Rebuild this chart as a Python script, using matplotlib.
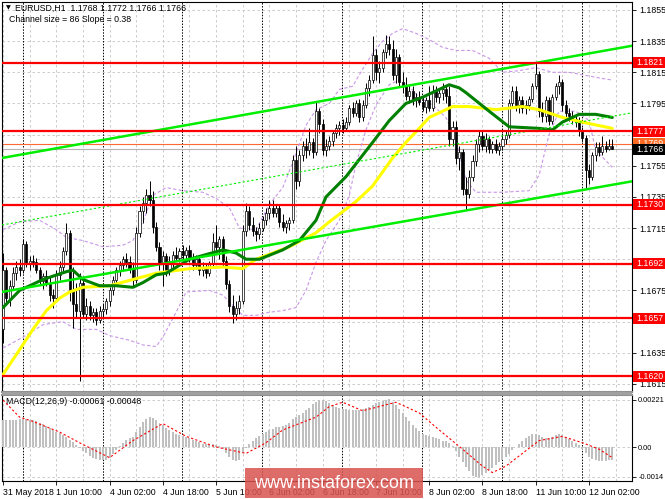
import numpy as np
import matplotlib
matplotlib.use("Agg")
import matplotlib.pyplot as plt
import matplotlib.transforms as mtransforms
from matplotlib.patches import Rectangle

plt.rcParams['font.family'] = ['Liberation Sans', 'DejaVu Sans']
plt.rcParams['font.size'] = 6.3

# EURUSD H1, 31 May 18:00 .. 12 Jun 09:00 (one row per trading day)
opens = [
    1.1650, 1.1688, 1.1670, 1.1678, 1.1686, 1.1690,
    1.1688, 1.1705, 1.1692, 1.1694, 1.1693, 1.1688, 1.1681, 1.1684, 1.1680, 1.1672, 1.1670, 1.1685, 1.1690, 1.1700, 1.1712, 1.1675, 1.1666, 1.1662, 1.1680, 1.1660, 1.1665, 1.1659, 1.1661, 1.1656,
    1.1662, 1.1663, 1.1668, 1.1675, 1.1682, 1.1688, 1.1691, 1.1695, 1.1693, 1.1689, 1.1682, 1.1712, 1.1726, 1.1731, 1.1736, 1.1733, 1.1716, 1.1703, 1.1692, 1.1697, 1.1688, 1.1694, 1.1698, 1.1696,
    1.1700, 1.1698, 1.1701, 1.1696, 1.1691, 1.1695, 1.1688, 1.1690, 1.1686, 1.1692, 1.1706, 1.1703, 1.1708, 1.1694, 1.1679, 1.1665, 1.1660, 1.1664, 1.1668, 1.1713, 1.1726, 1.1717, 1.1713, 1.1711,
    1.1715, 1.1720, 1.1725, 1.1728, 1.1725, 1.1728, 1.1719, 1.1716, 1.1718, 1.1720, 1.1759, 1.1745, 1.1762, 1.1768, 1.1765, 1.1770, 1.1764, 1.1790, 1.1782, 1.1765, 1.1768, 1.1771, 1.1776, 1.1779,
    1.1781, 1.1779, 1.1783, 1.1792, 1.1789, 1.1795, 1.1786, 1.1794, 1.1805, 1.1810, 1.1826, 1.1815, 1.1818, 1.1828, 1.1833, 1.1830, 1.1813, 1.1825, 1.1809, 1.1806, 1.1800, 1.1803, 1.1797, 1.1799,
    1.1796, 1.1793, 1.1797, 1.1792, 1.1803, 1.1799, 1.1802, 1.1804, 1.1800, 1.1772, 1.1780, 1.1760, 1.1764, 1.1740, 1.1737, 1.1748, 1.1758, 1.1769, 1.1774, 1.1768, 1.1772, 1.1766, 1.1769, 1.1765,
    1.1768, 1.1772, 1.1775, 1.1795, 1.1803, 1.1794, 1.1797, 1.1792, 1.1794, 1.1798, 1.1806, 1.1814, 1.1790, 1.1787, 1.1797, 1.1784, 1.1799, 1.1806, 1.1809, 1.1794, 1.1789, 1.1787, 1.1785, 1.1783,
    1.1777, 1.1773, 1.1752, 1.1748, 1.1762, 1.1767, 1.1764, 1.1768, 1.1766, 1.1768,
]
highs = [
    1.1699, 1.1690, 1.1682, 1.1690, 1.1694, 1.1695,
    1.1708, 1.1707, 1.1697, 1.1698, 1.1696, 1.1690, 1.1686, 1.1688, 1.1684, 1.1676, 1.1688, 1.1694, 1.1703, 1.1718, 1.1714, 1.1690, 1.1680, 1.1686, 1.1684, 1.1670, 1.1668, 1.1664, 1.1664, 1.1665,
    1.1666, 1.1670, 1.1677, 1.1684, 1.1690, 1.1694, 1.1697, 1.1699, 1.1697, 1.1693, 1.1716, 1.1729, 1.1735, 1.1740, 1.1745, 1.1739, 1.1719, 1.1706, 1.1700, 1.1699, 1.1697, 1.1700, 1.1703, 1.1702,
    1.1704, 1.1703, 1.1704, 1.1699, 1.1698, 1.1697, 1.1693, 1.1692, 1.1694, 1.1712, 1.1717, 1.1710, 1.1710, 1.1697, 1.1682, 1.1672, 1.1668, 1.1672, 1.1717, 1.1731, 1.1729, 1.1722, 1.1716, 1.1718,
    1.1723, 1.1728, 1.1733, 1.1733, 1.1730, 1.1730, 1.1724, 1.1720, 1.1722, 1.1762, 1.1768, 1.1765, 1.1771, 1.1773, 1.1779, 1.1773, 1.1796, 1.1792, 1.1785, 1.1772, 1.1774, 1.1778, 1.1782, 1.1784,
    1.1785, 1.1786, 1.1794, 1.1796, 1.1797, 1.1798, 1.1797, 1.1808, 1.1813, 1.1838, 1.1830, 1.1822, 1.1830, 1.1839, 1.1838, 1.1836, 1.1830, 1.1827, 1.1815, 1.1812, 1.1806, 1.1806, 1.1802, 1.1803,
    1.1800, 1.1799, 1.1806, 1.1807, 1.1806, 1.1805, 1.1808, 1.1807, 1.1806, 1.1784, 1.1784, 1.1768, 1.1766, 1.1748, 1.1752, 1.1762, 1.1772, 1.1778, 1.1777, 1.1776, 1.1774, 1.1771, 1.1772, 1.1770,
    1.1776, 1.1778, 1.1798, 1.1806, 1.1806, 1.1800, 1.1800, 1.1797, 1.1800, 1.1808, 1.1821, 1.1816, 1.1796, 1.1800, 1.1799, 1.1801, 1.1808, 1.1813, 1.1811, 1.1797, 1.1792, 1.1790, 1.1788, 1.1786,
    1.1780, 1.1775, 1.1756, 1.1764, 1.1770, 1.1770, 1.1774, 1.1771, 1.1772, 1.1772,
]
lows = [
    1.1641, 1.1666, 1.1665, 1.1675, 1.1682, 1.1684,
    1.1686, 1.1690, 1.1688, 1.1690, 1.1686, 1.1679, 1.1676, 1.1678, 1.1668, 1.1664, 1.1668, 1.1682, 1.1687, 1.1698, 1.1668, 1.1651, 1.1658, 1.1617, 1.1657, 1.1656, 1.1656, 1.1655, 1.1653, 1.1654,
    1.1657, 1.1660, 1.1665, 1.1672, 1.1680, 1.1684, 1.1688, 1.1690, 1.1686, 1.1678, 1.1680, 1.1709, 1.1718, 1.1725, 1.1729, 1.1712, 1.1700, 1.1688, 1.1678, 1.1684, 1.1685, 1.1690, 1.1694, 1.1693,
    1.1695, 1.1694, 1.1693, 1.1688, 1.1689, 1.1685, 1.1684, 1.1683, 1.1684, 1.1690, 1.1700, 1.1695, 1.1690, 1.1676, 1.1661, 1.1654, 1.1656, 1.1660, 1.1666, 1.1710, 1.1714, 1.1710, 1.1707, 1.1708,
    1.1713, 1.1717, 1.1721, 1.1722, 1.1722, 1.1716, 1.1713, 1.1712, 1.1714, 1.1718, 1.1740, 1.1742, 1.1758, 1.1760, 1.1762, 1.1760, 1.1762, 1.1776, 1.1762, 1.1761, 1.1765, 1.1768, 1.1773, 1.1775,
    1.1776, 1.1777, 1.1781, 1.1786, 1.1787, 1.1783, 1.1784, 1.1792, 1.1800, 1.1808, 1.1810, 1.1808, 1.1815, 1.1824, 1.1826, 1.1810, 1.1808, 1.1806, 1.1802, 1.1797, 1.1795, 1.1794, 1.1793, 1.1794,
    1.1790, 1.1789, 1.1790, 1.1790, 1.1796, 1.1795, 1.1797, 1.1795, 1.1768, 1.1768, 1.1756, 1.1752, 1.1736, 1.1727, 1.1734, 1.1745, 1.1755, 1.1764, 1.1765, 1.1764, 1.1763, 1.1763, 1.1763, 1.1762,
    1.1765, 1.1769, 1.1773, 1.1792, 1.1790, 1.1789, 1.1789, 1.1788, 1.1791, 1.1796, 1.1804, 1.1786, 1.1783, 1.1783, 1.1781, 1.1782, 1.1797, 1.1801, 1.1790, 1.1786, 1.1784, 1.1782, 1.1780, 1.1774,
    1.1770, 1.1741, 1.1743, 1.1746, 1.1758, 1.1761, 1.1762, 1.1764, 1.1765, 1.1766,
]
closes = [
    1.1688, 1.1670, 1.1678, 1.1686, 1.1690, 1.1688,
    1.1705, 1.1692, 1.1694, 1.1693, 1.1688, 1.1681, 1.1684, 1.1680, 1.1672, 1.1670, 1.1685, 1.1690, 1.1700, 1.1712, 1.1675, 1.1666, 1.1662, 1.1680, 1.1660, 1.1665, 1.1659, 1.1661, 1.1656, 1.1662,
    1.1663, 1.1668, 1.1675, 1.1682, 1.1688, 1.1691, 1.1695, 1.1693, 1.1689, 1.1682, 1.1712, 1.1726, 1.1731, 1.1736, 1.1733, 1.1716, 1.1703, 1.1692, 1.1697, 1.1688, 1.1694, 1.1698, 1.1696, 1.1700,
    1.1698, 1.1701, 1.1696, 1.1691, 1.1695, 1.1688, 1.1690, 1.1686, 1.1692, 1.1706, 1.1703, 1.1708, 1.1694, 1.1679, 1.1665, 1.1660, 1.1664, 1.1668, 1.1713, 1.1726, 1.1717, 1.1713, 1.1711, 1.1715,
    1.1720, 1.1725, 1.1728, 1.1725, 1.1728, 1.1719, 1.1716, 1.1718, 1.1720, 1.1759, 1.1745, 1.1762, 1.1768, 1.1765, 1.1770, 1.1764, 1.1790, 1.1782, 1.1765, 1.1768, 1.1771, 1.1776, 1.1779, 1.1781,
    1.1779, 1.1783, 1.1792, 1.1789, 1.1795, 1.1786, 1.1794, 1.1805, 1.1810, 1.1826, 1.1815, 1.1818, 1.1828, 1.1833, 1.1830, 1.1813, 1.1825, 1.1809, 1.1806, 1.1800, 1.1803, 1.1797, 1.1799, 1.1796,
    1.1793, 1.1797, 1.1792, 1.1803, 1.1799, 1.1802, 1.1804, 1.1800, 1.1772, 1.1780, 1.1760, 1.1764, 1.1740, 1.1737, 1.1748, 1.1758, 1.1769, 1.1774, 1.1768, 1.1772, 1.1766, 1.1769, 1.1765, 1.1768,
    1.1772, 1.1775, 1.1795, 1.1803, 1.1794, 1.1797, 1.1792, 1.1794, 1.1798, 1.1806, 1.1814, 1.1790, 1.1787, 1.1797, 1.1784, 1.1799, 1.1806, 1.1809, 1.1794, 1.1789, 1.1787, 1.1785, 1.1783, 1.1777,
    1.1773, 1.1752, 1.1748, 1.1762, 1.1767, 1.1764, 1.1768, 1.1766, 1.1768, 1.1766,
]

# MACD histogram (main line) per bar
macd_hist = [
    0.00125, 0.00126, 0.00127, 0.00128, 0.00129, 0.00130,
    0.00131, 0.00130, 0.00128, 0.00125, 0.00120, 0.00113, 0.00106, 0.00098, 0.00090, 0.00080, 0.00072, 0.00064, 0.00056, 0.00048, 0.00035, 0.00022, 0.00010, -0.00005, -0.00018, -0.00030, -0.00042, -0.00052, -0.00058, -0.00062,
    -0.00063, -0.00060, -0.00050, -0.00035, -0.00015, 0.00005, 0.00020, 0.00032, 0.00042, 0.00048, 0.00070, 0.00095, 0.00118, 0.00133, 0.00140, 0.00138, 0.00128, 0.00115, 0.00102, 0.00090, 0.00080, 0.00070, 0.00062, 0.00055,
    0.00050, 0.00045, 0.00040, 0.00033, 0.00027, 0.00022, 0.00016, 0.00012, 0.00010, 0.00012, 0.00010, 0.00005, -0.00010, -0.00030, -0.00048, -0.00060, -0.00068, -0.00060, -0.00030, -0.00005, 0.00015, 0.00030, 0.00042, 0.00052,
    0.00062, 0.00072, 0.00080, 0.00086, 0.00092, 0.00096, 0.00100, 0.00104, 0.00115, 0.00130, 0.00140, 0.00148, 0.00160, 0.00172, 0.00184, 0.00200, 0.00212, 0.00220, 0.00221, 0.00215, 0.00205, 0.00195, 0.00190, 0.00185,
    0.00180, 0.00178, 0.00176, 0.00175, 0.00174, 0.00176, 0.00178, 0.00182, 0.00186, 0.00195, 0.00205, 0.00212, 0.00218, 0.00222, 0.00224, 0.00212, 0.00195, 0.00178, 0.00160, 0.00142, 0.00122, 0.00105, 0.00090, 0.00075,
    0.00062, 0.00055, 0.00050, 0.00047, 0.00042, 0.00036, 0.00030, 0.00028, 0.00020, 0.00005, -0.00020, -0.00045, -0.00072, -0.00095, -0.00115, -0.00135, -0.00142, -0.00140, -0.00132, -0.00122, -0.00110, -0.00098, -0.00085, -0.00072,
    -0.00060, -0.00048, -0.00032, -0.00015, 0.00000, 0.00015, 0.00028, 0.00040, 0.00052, 0.00060, 0.00062, 0.00055, 0.00046, 0.00040, 0.00042, 0.00048, 0.00055, 0.00060, 0.00058, 0.00048, 0.00038, 0.00028, 0.00020, 0.00008,
    -0.00008, -0.00030, -0.00045, -0.00055, -0.00062, -0.00066, -0.00066, -0.00065, -0.00063, -0.00061,
]

# signal line, read at a few bars
signal_bars = [0, 5, 9, 17, 23, 32, 39, 48, 55, 64, 73, 79, 84, 94, 98, 102, 108, 118, 125, 131,
               138, 144, 147, 151, 156, 161, 168, 174, 179, 183]
signal_vals = [0.0022, 0.0014, 0.0012, 0.0007, 0.0002, -0.0005, 0.0003, 0.0011, 0.0005, 0.0000,
               -0.0003, 0.0002, 0.0008, 0.0014, 0.0019, 0.0021, 0.0017, 0.0021, 0.0016, 0.0008,
               -0.0001, -0.0009, -0.0012, -0.0009, -0.0003, 0.0003, 0.0005, 0.0002, -0.0001, -0.0005]

# moving averages, read at a few bars
ma_fast_bars = [0, 5, 12, 19, 21, 24, 29, 34, 39, 42, 46, 49, 56, 66, 70, 73, 77, 84, 89, 94, 97,
                103, 111, 116, 121, 126, 131, 134, 137, 139, 146, 152, 161, 165, 168, 173, 178, 183]
ma_fast = [1.1664, 1.1675, 1.1682, 1.1687, 1.1688, 1.1682, 1.1678, 1.1678, 1.1677, 1.1680, 1.1685,
           1.1686, 1.1695, 1.1701, 1.1699, 1.1695, 1.1695, 1.1701, 1.1707, 1.1720, 1.1735, 1.1748,
           1.1770, 1.1784, 1.1795, 1.1799, 1.1804, 1.1807, 1.1805, 1.1802, 1.1790, 1.1780, 1.1779,
           1.1778, 1.1783, 1.1788, 1.1788, 1.1786]
ma_slow_bars = [0, 5, 9, 13, 17, 20, 24, 32, 39, 46, 56, 66, 72, 76, 86, 94, 98, 106, 111, 117,
                121, 125, 128, 135, 140, 148, 156, 161, 168, 174, 183]
ma_slow = [1.1621, 1.1637, 1.1650, 1.1662, 1.1670, 1.1674, 1.1677, 1.1678, 1.1682, 1.1686, 1.1689,
           1.1690, 1.1689, 1.1695, 1.1703, 1.1712, 1.1719, 1.1732, 1.1742, 1.1760, 1.1770, 1.1779,
           1.1786, 1.1793, 1.1793, 1.1791, 1.1793, 1.1791, 1.1786, 1.1783, 1.1779]

# envelope bands (purple dashed)
band_up_bars = [0, 5, 11, 16, 19, 24, 30, 36, 39, 42, 45, 49, 54, 60, 64, 68, 71, 76, 80, 84, 87,
                91, 94, 98, 101, 105, 108, 111, 114, 117, 120, 124, 128, 132, 136, 141, 146, 150,
                155, 160, 165, 170, 175, 180, 183]
band_up = [1.1714, 1.1719, 1.1720, 1.1714, 1.1709, 1.1707, 1.1703, 1.1704, 1.1707, 1.1719, 1.1736,
           1.1741, 1.1739, 1.1738, 1.1734, 1.1728, 1.1715, 1.1714, 1.1730, 1.1741, 1.1757, 1.1781,
           1.1791, 1.1795, 1.1804, 1.1806, 1.1817, 1.1827, 1.1835, 1.1840, 1.1843, 1.1840, 1.1836,
           1.1831, 1.1829, 1.1829, 1.1824, 1.1815, 1.1816, 1.1818, 1.1815, 1.1815, 1.1813, 1.1811,
           1.1810]
band_dn_bars = [0, 6, 12, 18, 22, 28, 32, 38, 42, 46, 48, 52, 55, 62, 66, 72, 76, 80, 84, 88, 91,
                94, 97, 101, 104, 106, 109, 112, 116, 119, 122, 125, 129, 133, 136, 139, 142, 150,
                158, 161, 164, 167, 172, 176, 178, 183]
band_dn = [1.1638, 1.1645, 1.1653, 1.1655, 1.1650, 1.1650, 1.1646, 1.1643, 1.1640, 1.1639, 1.1645,
           1.1661, 1.1674, 1.1675, 1.1672, 1.1659, 1.1659, 1.1661, 1.1662, 1.1664, 1.1675, 1.1693,
           1.1707, 1.1720, 1.1736, 1.1756, 1.1778, 1.1794, 1.1807, 1.1810, 1.1806, 1.1799, 1.1794,
           1.1786, 1.1772, 1.1746, 1.1738, 1.1738, 1.1739, 1.1749, 1.1775, 1.1790, 1.1790, 1.1784,
           1.1765, 1.1754]

# regression channel: price at left and right edge
channel_x = [-0.3, 188.9]
channel_top = [1.1760, 1.1832]
channel_mid = [1.1717, 1.1789]
channel_bot = [1.1674, 1.1745]

levels = [1.1821, 1.1777, 1.1730, 1.1692, 1.1657, 1.1620]
bid, ask = 1.1766, 1.1769

day_starts = [6, 30, 54, 78, 102, 126, 150, 174]
time_ticks = [0, 16, 32, 48, 64, 80, 96, 112, 128, 144, 160, 176]
time_labels = ['31 May 2018', '1 Jun 10:00', '4 Jun 02:00', '4 Jun 18:00', '5 Jun 10:00',
               '6 Jun 02:00', '6 Jun 18:00', '7 Jun 10:00', '8 Jun 02:00', '8 Jun 18:00',
               '11 Jun 10:00', '12 Jun 02:00']
price_ticks = [1.1615, 1.1635, 1.1655, 1.1675, 1.1695, 1.1715, 1.1735, 1.1755, 1.1775, 1.1795,
               1.1815, 1.1835, 1.1855]
hidden_ticks = [1.1655, 1.1695, 1.1775]   # sit under the level tags
macd_ticks = [0.00221, 0.0, -0.0014]
macd_labels = ['0.00221', '0.00', '-0.0014']

W, H = 665, 499


def box(x0, y0, x1, y1):
    return [x0 / W, 1 - y1 / H, (x1 - x0) / W, (y1 - y0) / H]


fig = plt.figure(figsize=(W / 100, H / 100), dpi=100)
ax = fig.add_axes(box(2, 2, 632, 392))
ax2 = fig.add_axes(box(2, 395, 632, 481))
xlim = (-0.3, 188.9)

n = len(closes)
assert len(opens) == len(highs) == len(lows) == n == len(macd_hist)
x = np.arange(n)
o, h, l, c = map(np.array, (opens, highs, lows, closes))

grid_kw = dict(color='#c4c4c4', ls=(0, (3, 3)), lw=0.6, zorder=0)
for a in (ax, ax2):
    a.set_xlim(*xlim)
    for b in range(0, 189, 8):
        a.axvline(b, **grid_kw)
    for d in day_starts:
        a.axvline(d - 0.1, color='black', ls=(0, (1.5, 1.5)), lw=0.7, zorder=1)
    for s in a.spines.values():
        s.set_linewidth(0.8)
for p in price_ticks:
    ax.axhline(p, **grid_kw)
for p in macd_ticks:
    ax2.axhline(p, **grid_kw)

# price panel
ax.set_ylim(1.16098, 1.18601)
ax.axhline(bid, color='#b4b4b4', lw=0.8, zorder=2)
ax.axhline(ask, color='#ff6a33', lw=0.8, zorder=2)
ax.plot(band_up_bars, band_up, color='#c996e8', ls=(0, (3, 2)), lw=0.8, zorder=3)
ax.plot(band_dn_bars, band_dn, color='#c996e8', ls=(0, (3, 2)), lw=0.8, zorder=3)

ax.vlines(x, l, h, color='black', lw=0.7, zorder=5)
up = c >= o
body = np.maximum(np.abs(c - o), 0.00004)
ax.bar(x, body, bottom=np.minimum(o, c), width=0.62,
       color=np.where(up, 'white', 'black'), edgecolor='black', linewidth=0.5, zorder=6)

ax.plot(ma_slow_bars, ma_slow, color='#ffff00', lw=2.2, zorder=7, solid_capstyle='round')
ax.plot(ma_fast_bars, ma_fast, color='#008000', lw=2.2, zorder=8, solid_capstyle='round')
ax.plot(channel_x, channel_top, color='#00ee00', lw=1.8, zorder=9)
ax.plot(channel_x, channel_bot, color='#00ee00', lw=1.8, zorder=9)
ax.plot(channel_x, channel_mid, color='#00ee00', lw=0.8, ls=(0, (2, 2)), zorder=9)
for lv in levels:
    ax.axhline(lv, color='#ff0000', lw=1.6, zorder=10)

ax.yaxis.tick_right()
ax.set_yticks(price_ticks)
ax.set_yticklabels(['' if p in hidden_ticks else f'{p:.4f}' for p in price_ticks])
ax.set_xticks([])
ax.tick_params(axis='y', length=3, width=0.6, pad=2, labelsize=6.3)
ax.spines['bottom'].set_color('#909090')
ax.spines['bottom'].set_linewidth(1.5)

# price tags on the right scale
trans = mtransforms.blended_transform_factory(ax.transAxes, ax.transData)
tag_h = 11 / 15580


def price_tag(value, face, z, shift=0.0):
    y = value + shift
    ax.add_patch(Rectangle((1 + 1 / 630, y - tag_h / 2), 33 / 630, tag_h, transform=trans,
                           fc=face, ec='none', clip_on=False, zorder=z))
    ax.text(1 + 4 / 630, y, f'{value:.4f}', transform=trans, ha='left', va='center',
            color='white', fontsize=6.3, clip_on=False, zorder=z + 1)


for lv in levels:
    price_tag(lv, '#ff0000', 20)
price_tag(ask, '#ff6a22', 22)
price_tag(bid, '#000000', 24, shift=-0.00005)

# MACD panel
ax2.set_ylim(-0.001596, 0.002441)
ax2.bar(x, macd_hist, width=0.6, color='#c0c0c0', zorder=3)
ax2.plot(signal_bars, signal_vals, color='#ff0000', ls=(0, (2, 2)), lw=0.8, zorder=4)
ax2.yaxis.tick_right()
ax2.set_yticks(macd_ticks)
ax2.set_yticklabels(macd_labels)
ax2.set_xticks(time_ticks)
ax2.set_xticklabels(time_labels, ha='left')
ax2.tick_params(axis='y', length=3, width=0.6, pad=1.5, labelsize=5.3)
ax2.tick_params(axis='x', length=3, width=0.6, pad=2, labelsize=6.3)
ax2.spines['top'].set_color('#909090')
ax2.spines['top'].set_linewidth(1.5)

fig.patches.append(Rectangle((2 / W, 1 - 395 / H), 630 / W, 3 / H, transform=fig.transFigure,
                             fc='#a0a0a0', ec='none', zorder=1))

# header texts
fig.text(6 / W, 1 - 8 / H, '\u25bc', fontsize=4.5, va='center', family=['DejaVu Sans'])
fig.text(15 / W, 1 - 8 / H, 'EURUSD,H1  1.1768 1.1772 1.1766 1.1766', va='center')
fig.text(9 / W, 1 - 19 / H, 'Channel size = 86 Slope = 0.38', va='center')
fig.text(6 / W, 1 - 402 / H, 'MACD(12,26,9) -0.00061 -0.00048', va='center')

# watermark
fig.patches.append(Rectangle((245 / W, 1 - 498 / H), 178 / W, 30 / H, transform=fig.transFigure,
                             fc='#d9534f', alpha=0.85, ec='none', zorder=5))
fig.text(334 / W, 1 - 483 / H, 'www.instaforex.com', color='white', fontsize=13,
         ha='center', va='center', zorder=6)

fig.savefig('out.png', dpi=100, facecolor='white')
